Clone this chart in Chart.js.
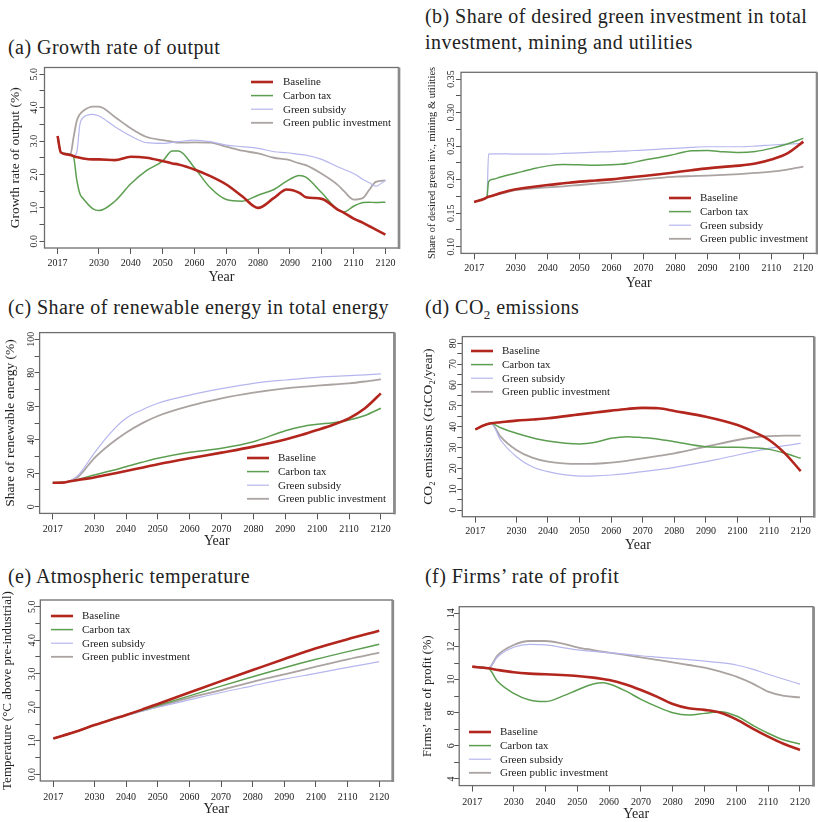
<!DOCTYPE html>
<html>
<head>
<meta charset="utf-8">
<script src="https://cdn.jsdelivr.net/npm/chart.js@4"></script>
<style>
  body { margin: 0; background: #fff; width: 818px; height: 822px; position: relative; overflow: hidden; font-family: "Liberation Serif", serif; }
  .t { position: absolute; font-size: 20px; line-height: 26px; color: #222; letter-spacing: 0.45px; white-space: nowrap; }
  .t sub { font-size: 13px; line-height: 0; }
  canvas { position: absolute; }
</style>
</head>
<body>
<div class="t" style="left:8px;top:34px">(a) Growth rate of output</div>
<div class="t" style="left:425px;top:3px">(b) Share of desired green investment in total<br>investment, mining and utilities</div>
<div class="t" style="left:8px;top:294px">(c) Share of renewable energy in total energy</div>
<div class="t" style="left:425px;top:294px">(d) CO<sub>2</sub> emissions</div>
<div class="t" style="left:8px;top:563px">(e) Atmospheric temperature</div>
<div class="t" style="left:425px;top:563px">(f) Firms’ rate of profit</div>
<canvas id="a"></canvas>
<canvas id="b"></canvas>
<canvas id="c"></canvas>
<canvas id="d"></canvas>
<canvas id="e"></canvas>
<canvas id="f"></canvas>
<script>
const seriesNames = ["Baseline", "Carbon tax", "Green subsidy", "Green public investment"];
const xTicks = [2017, 2030, 2040, 2050, 2060, 2070, 2080, 2090, 2100, 2110, 2120];

// (a) growth rate of output, %
const yearsA = [2017, 2018, 2020, 2021, 2022, 2023, 2024, 2025, 2028, 2030, 2035, 2040, 2045, 2050, 2053, 2055, 2060, 2065, 2070, 2075, 2080, 2085, 2089, 2093, 2095, 2100, 2105, 2107, 2110, 2113, 2115, 2117, 2120];
const baselineA = [3.15, 2.66, 2.6, 2.58, 2.55, 2.52, 2.5, 2.48, 2.45, 2.45, 2.43, 2.53, 2.5, 2.4, 2.33, 2.3, 2.15, 1.95, 1.7, 1.35, 1.0, 1.3, 1.55, 1.45, 1.32, 1.27, 0.95, 0.85, 0.68, 0.55, 0.45, 0.35, 0.2];
const carbonA = [3.15, 2.66, 2.62, 2.6, 2.53, 1.85, 1.42, 1.28, 0.98, 0.92, 1.2, 1.72, 2.12, 2.4, 2.7, 2.7, 2.2, 1.6, 1.25, 1.2, 1.38, 1.55, 1.8, 1.97, 1.92, 1.45, 0.95, 0.88, 1.05, 1.16, 1.17, 1.16, 1.17];
const subsidyA = [3.15, 2.66, 2.62, 2.6, 2.56, 2.65, 3.5, 3.7, 3.8, 3.75, 3.43, 3.15, 2.95, 2.93, 2.96, 2.98, 3.03, 2.98, 2.88, 2.83, 2.78, 2.68, 2.65, 2.6, 2.58, 2.45, 2.23, 2.15, 2.03, 1.85, 1.75, 1.65, 1.83];
const publicA = [3.15, 2.66, 2.62, 2.6, 3.1, 3.6, 3.8, 3.9, 4.03, 4.03, 3.72, 3.38, 3.12, 3.03, 2.98, 2.95, 2.96, 2.95, 2.83, 2.71, 2.63, 2.5, 2.45, 2.33, 2.28, 2.02, 1.69, 1.5, 1.25, 1.3, 1.55, 1.78, 1.82];
const yTicksA = [0, 0.5, 1, 1.5, 2, 2.5, 3, 3.5, 4, 4.5, 5];
const yLabelsA = ["0.0", "", "1.0", "", "2.0", "", "3.0", "", "4.0", "", "5.0"];

// (b) share of desired green investment
const yearsB = [2017, 2020, 2021, 2021.5, 2023, 2025, 2030, 2035, 2040, 2045, 2050, 2055, 2060, 2065, 2070, 2075, 2080, 2085, 2090, 2095, 2100, 2105, 2110, 2115, 2120];
const baselineB = [0.1666, 0.171, 0.1735, 0.1745, 0.1765, 0.1795, 0.1855, 0.189, 0.192, 0.1945, 0.197, 0.1987, 0.2004, 0.203, 0.2054, 0.208, 0.211, 0.214, 0.2168, 0.219, 0.2208, 0.224, 0.23, 0.239, 0.2566];
const carbonB = [0.1666, 0.171, 0.1735, 0.197, 0.2005, 0.2035, 0.2095, 0.2155, 0.2205, 0.2225, 0.222, 0.2215, 0.222, 0.224, 0.229, 0.233, 0.238, 0.243, 0.2435, 0.2415, 0.2405, 0.242, 0.2466, 0.253, 0.2615];
const subsidyB = [0.1666, 0.171, 0.1735, 0.238, 0.2385, 0.2385, 0.238, 0.238, 0.238, 0.239, 0.24, 0.241, 0.2417, 0.243, 0.244, 0.2455, 0.2466, 0.248, 0.249, 0.249, 0.249, 0.25, 0.2516, 0.253, 0.254];
const publicB = [0.1666, 0.171, 0.1735, 0.1745, 0.1765, 0.1785, 0.1845, 0.1865, 0.1885, 0.19, 0.192, 0.194, 0.196, 0.198, 0.2004, 0.2025, 0.2044, 0.2052, 0.2059, 0.207, 0.2083, 0.21, 0.2118, 0.215, 0.2193];
const yTicksB = [0.1, 0.125, 0.15, 0.175, 0.2, 0.225, 0.25, 0.275, 0.3, 0.325, 0.35];
const yLabelsB = ["0.10", "", "0.15", "", "0.20", "", "0.25", "", "0.30", "", "0.35"];

// (c) share of renewable energy, %
const yearsC = [2017, 2020, 2022, 2025, 2030, 2035, 2040, 2045, 2050, 2060, 2070, 2080, 2090, 2095, 2100, 2105, 2110, 2115, 2120];
const baselineC = [14.3, 14.4, 15, 16, 17.5, 19.4, 21.3, 23.3, 25.3, 28.9, 32.3, 35.9, 40.2, 42.8, 45.8, 49.0, 52.8, 58.8, 67.7];
const carbonC = [14.3, 14.4, 15, 16.3, 18.9, 21.3, 23.9, 26.5, 28.9, 32.5, 34.9, 38.8, 45.4, 47.8, 49.2, 50.2, 51.8, 54.5, 58.8];
const subsidyC = [14.3, 14.4, 15, 18.9, 31.9, 43.8, 52.8, 57.8, 61.8, 66.7, 70.5, 73.7, 75.7, 76.5, 77.3, 77.8, 78.3, 78.8, 79.3];
const publicC = [14.3, 14.4, 15, 17.9, 28.9, 37.3, 44.2, 49.8, 54.2, 60.2, 64.7, 68.1, 70.7, 71.6, 72.3, 73.0, 73.7, 74.8, 76.1];
const yTicksC = [0, 10, 20, 30, 40, 50, 60, 70, 80, 90, 100];
const yLabelsC = ["0", "", "20", "", "40", "", "60", "", "80", "", "100"];

// (d) CO2 emissions, GtCO2/year
const yearsD = [2017, 2020, 2022, 2025, 2030, 2035, 2040, 2050, 2055, 2060, 2065, 2070, 2075, 2080, 2090, 2100, 2105, 2110, 2115, 2120];
const baselineD = [38.7, 40.8, 41.6, 42.1, 42.9, 43.4, 44, 45.9, 46.8, 47.7, 48.5, 49, 48.8, 47.5, 44.8, 40.8, 37.6, 33.6, 27.2, 18.7];
const carbonD = [38.7, 40.8, 41.6, 39.5, 36.8, 34.7, 33.1, 31.7, 32.5, 34.4, 35.2, 34.7, 34.0, 32.8, 30.4, 30.1, 29.8, 29.1, 27.2, 24.8];
const subsidyD = [38.7, 40.8, 41.6, 33.6, 25.6, 20.8, 18.4, 16.3, 16.4, 16.8, 17.5, 18.4, 19.4, 20.5, 23.2, 26.4, 28.0, 29.6, 30.9, 32];
const publicD = [38.7, 40.8, 41.6, 35.2, 28.8, 25.1, 23.2, 22.1, 22.2, 22.7, 23.6, 24.8, 26.0, 27.2, 30.4, 33.6, 34.8, 35.5, 35.7, 35.7];
const yTicksD = [0, 5, 10, 15, 20, 25, 30, 35, 40, 45, 50, 55, 60, 65, 70, 75, 80];
const yLabelsD = ["0", "", "10", "", "20", "", "30", "", "40", "", "50", "", "60", "", "70", "", "80"];

// (e) atmospheric temperature, deg C above pre-industrial
const yearsE = [2017, 2025, 2030, 2035, 2040, 2045, 2050, 2060, 2070, 2080, 2090, 2100, 2110, 2120];
const baselineE = [1.07, 1.3, 1.47, 1.62, 1.77, 1.93, 2.1, 2.44, 2.78, 3.11, 3.44, 3.76, 4.03, 4.28];
const carbonE = [1.07, 1.3, 1.47, 1.62, 1.77, 1.91, 2.05, 2.34, 2.63, 2.91, 3.18, 3.43, 3.66, 3.88];
const subsidyE = [1.07, 1.3, 1.47, 1.62, 1.76, 1.88, 2.0, 2.22, 2.44, 2.64, 2.84, 3.01, 3.19, 3.36];
const publicE = [1.07, 1.3, 1.47, 1.62, 1.76, 1.89, 2.02, 2.28, 2.51, 2.76, 2.98, 3.21, 3.43, 3.63];
const yTicksE = [0, 0.5, 1, 1.5, 2, 2.5, 3, 3.5, 4, 4.5, 5];
const yLabelsE = ["0.0", "", "1.0", "", "2.0", "", "3.0", "", "4.0", "", "5.0"];

// (f) firms' rate of profit, %
const yearsF = [2017, 2022, 2025, 2030, 2035, 2040, 2045, 2050, 2055, 2058, 2060, 2065, 2070, 2075, 2080, 2085, 2090, 2095, 2100, 2105, 2110, 2115, 2120];
const baselineF = [10.78, 10.68, 10.58, 10.44, 10.36, 10.32, 10.28, 10.22, 10.12, 10.04, 9.98, 9.72, 9.37, 8.97, 8.53, 8.27, 8.17, 8.0, 7.6, 7.06, 6.56, 6.11, 5.75];
const carbonF = [10.78, 10.68, 9.88, 9.17, 8.77, 8.67, 8.97, 9.37, 9.73, 9.81, 9.73, 9.33, 8.81, 8.37, 8.0, 7.86, 7.96, 8.06, 7.8, 7.26, 6.76, 6.35, 6.11];
const subsidyF = [10.78, 10.68, 11.38, 11.95, 12.13, 12.09, 11.95, 11.79, 11.7, 11.66, 11.63, 11.54, 11.44, 11.36, 11.28, 11.2, 11.12, 11.02, 10.88, 10.63, 10.32, 10.02, 9.73];
const publicF = [10.78, 10.68, 11.48, 12.09, 12.33, 12.33, 12.19, 11.95, 11.78, 11.68, 11.63, 11.49, 11.34, 11.19, 11.04, 10.88, 10.72, 10.48, 10.18, 9.77, 9.27, 9.01, 8.93];
const yTicksF = [4, 5, 6, 7, 8, 9, 10, 11, 12, 13, 14];
const yLabelsF = ["4", "", "6", "", "8", "", "10", "", "12", "", "14"];

const colors = ["#b3261e", "#5c9e50", "#b6b6ee", "#aba3a1"];
const widths = [2.6, 1.5, 1.2, 1.8];
const serif = "'Liberation Serif', 'Times New Roman', serif";
const ink = "#222";

// cell = canvas rect on page, box = plot frame on page, legend = [lineX, textX, firstRowY]
const panels = [
  { id: "a", cell: [0, 58, 410, 234], box: [44.5, 67.5, 398.5, 248], years: yearsA, series: [baselineA, carbonA, subsidyA, publicA],
    range: [0, 5], yTicks: yTicksA, yLabels: yLabelsA, yTitle: "Growth rate of output (%)", yTitleSize: 13.5, yTitleX: 15, yLabelX: 34,
    xLabOff: 15.3, yearY: 277, legend: [251, 283, 82] },
  { id: "b", cell: [410, 58, 408, 234], box: [461, 72.3, 816.5, 253.4], years: yearsB, series: [baselineB, carbonB, subsidyB, publicB],
    range: [0.1, 0.35], yTicks: yTicksB, yLabels: yLabelsB, yTitle: "Share of desired green inv., mining & utilities", yTitleSize: 10.5, yTitleX: 432, yLabelX: 451,
    xLabOff: 14.9, yearY: 283, legend: [669, 700, 198] },
  { id: "c", cell: [0, 320, 410, 236], box: [39.6, 332.6, 394, 513.4], years: yearsC, series: [baselineC, carbonC, subsidyC, publicC],
    range: [0, 100], yTicks: yTicksC, yLabels: yLabelsC, yTitle: "Share of renewable energy (%)", yTitleSize: 13.5, yTitleX: 10, yLabelX: 31,
    xLabOff: 15.9, yearY: 541, legend: [247, 278, 458] },
  { id: "d", cell: [410, 320, 408, 236], box: [462.3, 336.6, 813.7, 516.7], years: yearsD, series: [baselineD, carbonD, subsidyD, publicD],
    range: [0, 80], yTicks: yTicksD, yLabels: yLabelsD, yTitle: "CO₂ emissions (GtCO₂/year)", yTitleSize: 13.5, yTitleX: 428, yLabelX: 453,
    xLabOff: 13.8, yearY: 545, legend: [471, 502, 351] },
  { id: "e", cell: [0, 590, 410, 232], box: [40.3, 600, 392.3, 781], years: yearsE, series: [baselineE, carbonE, subsidyE, publicE],
    range: [0, 5], yTicks: yTicksE, yLabels: yLabelsE, yTitle: "Temperature (°C above pre-industrial)", yTitleSize: 13, yTitleX: 8, yLabelX: 32,
    xLabOff: 16.3, yearY: 809, legend: [51, 82, 616] },
  { id: "f", cell: [410, 590, 408, 232], box: [459.2, 606.7, 813.1, 785.6], years: yearsF, series: [baselineF, carbonF, subsidyF, publicF],
    range: [4, 14], yTicks: yTicksF, yLabels: yLabelsF, yTitle: "Firms’ rate of profit (%)", yTitleSize: 12.5, yTitleX: 428, yLabelX: 451,
    xLabOff: 16.7, yearY: 814, legend: [469, 500, 732] }
];

function makeChart(p) {
  const [cx, cy, cw, ch] = p.cell;
  const [bl, bt, br, bb] = p.box;
  const cv = document.getElementById(p.id);
  cv.width = cw;
  cv.height = ch;
  cv.style.left = cx + "px";
  cv.style.top = cy + "px";
  const span = p.range[1] - p.range[0];

  const framePlugin = {
    id: "frame",
    afterDraw(chart) {
      const { ctx, chartArea: a } = chart;
      ctx.save();
      ctx.strokeStyle = "#6e6e6e";
      ctx.lineWidth = 1.3;
      ctx.strokeRect(a.left, a.top, a.right - a.left, a.bottom - a.top);
      ctx.strokeStyle = "#8a8a8a";
      ctx.lineWidth = 2.5;
      ctx.beginPath();
      ctx.moveTo(a.right + 0.6, a.top);
      ctx.lineTo(a.right + 0.6, a.bottom + 1);
      ctx.stroke();
      ctx.restore();
    }
  };

  // R-style y labels, turned to read bottom to top
  const yLabelPlugin = {
    id: "ylabels",
    afterDraw(chart) {
      const { ctx } = chart;
      const ys = chart.scales.y;
      ctx.save();
      ctx.fillStyle = ink;
      ctx.font = "10px " + serif;
      ctx.textAlign = "center";
      ctx.textBaseline = "middle";
      p.yTicks.forEach((v, i) => {
        if (!p.yLabels[i]) return;
        ctx.save();
        ctx.translate(p.yLabelX - cx, ys.getPixelForValue(v));
        ctx.rotate(-Math.PI / 2);
        ctx.fillText(p.yLabels[i], 0, 0);
        ctx.restore();
      });
      ctx.restore();
    }
  };

  const legendPlugin = {
    id: "rlegend",
    afterDraw(chart) {
      const { ctx } = chart;
      const [lx, tx, ly] = p.legend;
      ctx.save();
      ctx.font = "11px " + serif;
      ctx.textBaseline = "middle";
      chart.data.datasets.forEach((ds, i) => {
        const y = ly - cy + i * 13.6;
        ctx.strokeStyle = ds.borderColor;
        ctx.lineWidth = ds.borderWidth;
        ctx.beginPath();
        ctx.moveTo(lx - cx, y);
        ctx.lineTo(lx - cx + 22, y);
        ctx.stroke();
        ctx.fillStyle = ink;
        ctx.fillText(ds.label, tx - cx, y + 0.5);
      });
      ctx.restore();
    }
  };

  new Chart(cv, {
    type: "line",
    data: {
      datasets: p.series.map((vals, i) => ({
        label: seriesNames[i],
        data: p.years.map((yr, j) => ({ x: yr, y: vals[j] })),
        borderColor: colors[i],
        borderWidth: widths[i],
        pointRadius: 0,
        cubicInterpolationMode: "monotone",
        fill: false
      }))
    },
    options: {
      responsive: false,
      animation: false,
      events: [],
      layout: { padding: { top: bt - cy, right: cx + cw - br, left: 0, bottom: 0 } },
      plugins: { legend: { display: false }, tooltip: { enabled: false } },
      scales: {
        x: {
          type: "linear",
          min: 2017 - 4.12,
          max: 2120 + 4.12,
          afterBuildTicks: s => { s.ticks = xTicks.map(v => ({ value: v })); },
          afterFit: s => { s.height = cy + ch - bb; },
          grid: { drawOnChartArea: false, tickLength: 6, color: "#555", lineWidth: 1 },
          border: { display: false },
          ticks: { autoSkip: false, maxRotation: 0, padding: p.xLabOff - 11.5, color: ink, font: { family: serif, size: 10 }, callback: v => String(v) },
          title: { display: true, text: "Year", color: ink, font: { family: serif, size: 14 }, padding: { top: 0, bottom: cy + ch - p.yearY - 8.4 } }
        },
        y: {
          min: p.range[0] - 0.04 * span,
          max: p.range[1] + 0.04 * span,
          afterBuildTicks: s => { s.ticks = p.yTicks.map(v => ({ value: v })); },
          afterFit: s => { s.width = bl - cx; },
          grid: { drawOnChartArea: false, tickLength: 5, color: "#555", lineWidth: 1 },
          border: { display: false },
          ticks: { display: false },
          title: { display: true, text: p.yTitle, color: ink, font: { family: serif, size: p.yTitleSize },
                   padding: { top: p.yTitleX - cx - p.yTitleSize * 0.6, bottom: 0 } }
        }
      }
    },
    plugins: [framePlugin, yLabelPlugin, legendPlugin]
  });
}

panels.forEach(makeChart);
</script>
</body>
</html>
